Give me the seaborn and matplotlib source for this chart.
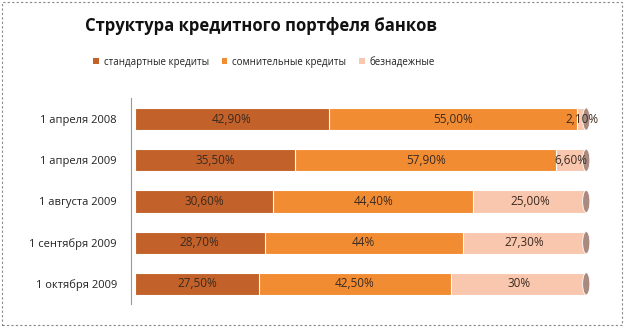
import numpy as np
import pandas as pd
import matplotlib
matplotlib.use("Agg")
import matplotlib.pyplot as plt
import seaborn as sns
from matplotlib.patches import Patch, Rectangle, Ellipse

categories = ["1 апреля 2008", "1 апреля 2009", "1 августа 2009", "1 сентября 2009", "1 октября 2009"]
series_names = ["стандартные кредиты", "сомнительные кредиты", "безнадежные"]
standard = [42.9, 35.5, 30.6, 28.7, 27.5]
doubtful = [55.0, 57.9, 44.4, 44.0, 42.5]
bad = [2.1, 6.6, 25.0, 27.3, 30.0]
standard_labels = ["42,90%", "35,50%", "30,60%", "28,70%", "27,50%"]
doubtful_labels = ["55,00%", "57,90%", "44,40%", "44%", "42,50%"]
bad_labels = ["2,10%", "6,60%", "25,00%", "27,30%", "30%"]
colors = ["#C2612A", "#F28C32", "#F9C6AE"]

sns.set_style("white")
plt.rcParams["font.family"] = ["Open Sans", "DejaVu Sans"]

df = pd.DataFrame({"cat": categories, "s": standard, "d": doubtful, "b": bad})
df["c1"] = df["s"]
df["c2"] = df["s"] + df["d"]
df["c3"] = df["s"] + df["d"] + df["b"]

fig = plt.figure(figsize=(6.25, 3.27), dpi=100)
ax = fig.add_axes([0.216, 0.069, 0.722, 0.630])

bar_h = 0.54
for col, c in [("c3", colors[2]), ("c2", colors[1]), ("c1", colors[0])]:
    sns.barplot(data=df, x=col, y="cat", color=c, orient="h", width=bar_h,
                edgecolor="white", linewidth=0.8, saturation=1, ax=ax)

# rounded end caps of the cylinders
for i, tot in enumerate(df["c3"]):
    ax.add_patch(Ellipse((tot, i), 1.6, bar_h, facecolor="#A98A80",
                         edgecolor="white", linewidth=0.6, zorder=3, clip_on=False))

# segment labels
for i in range(len(categories)):
    starts = [0, standard[i], standard[i] + doubtful[i]]
    vals = [standard[i], doubtful[i], bad[i]]
    labs = [standard_labels[i], doubtful_labels[i], bad_labels[i]]
    for st, v, lab in zip(starts, vals, labs):
        ax.text(st + v / 2, i, lab, ha="center", va="center", fontsize=8.5,
                color="#3a2a20", zorder=5)

ax.set_xlim(0, 100)
ax.set_ylim(4.5, -0.5)
ax.set_xlabel("")
ax.set_ylabel("")
ax.set_xticks([])
ax.tick_params(axis="y", length=0, labelsize=8, pad=10, colors="#222222")
for s in ["top", "right", "bottom"]:
    ax.spines[s].set_visible(False)
ax.spines["left"].set_color("#999999")
ax.spines["left"].set_linewidth(0.8)
ax.spines["left"].set_position(("outward", 3))

# legend
handles = [Patch(facecolor=c, edgecolor="none") for c in colors]
fig.legend(handles, series_names, loc="center", bbox_to_anchor=(264 / 625, 1 - 62 / 327),
           ncol=3, frameon=False, fontsize=7, handlelength=0.6, handleheight=0.6,
           columnspacing=1.3, handletextpad=0.5, labelcolor="#222222")

fig.text(261 / 625, 1 - 26 / 327, "Структура кредитного портфеля банков",
         ha="center", va="center", fontsize=12, fontweight="bold", color="#111111")

# dashed border around chart area
fig.patches.append(Rectangle((0.003, 0.005), 0.992, 0.99, transform=fig.transFigure,
                             fill=False, edgecolor="#888888", linestyle=(0, (2, 2)), linewidth=0.8))

fig.savefig("out.png", dpi=100)
